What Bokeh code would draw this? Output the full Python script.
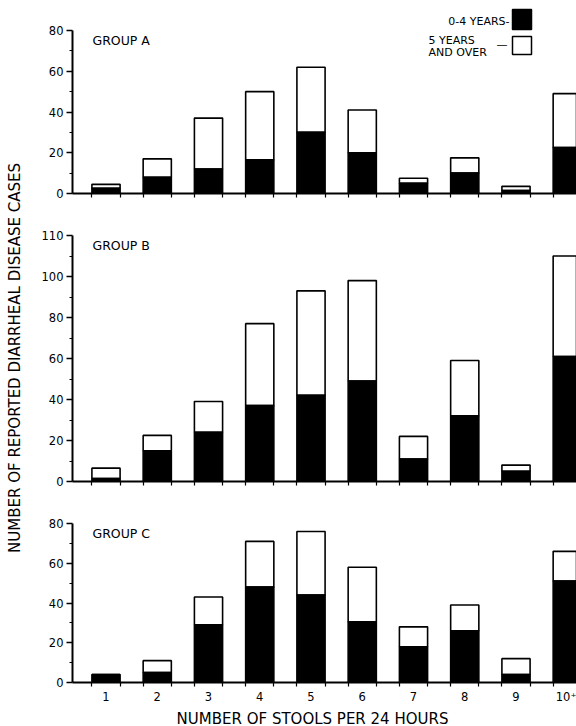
import math
from bokeh.plotting import figure
from bokeh.layouts import row, column
from bokeh.models import FixedTicker, Label, Range1d
from bokeh.embed import file_html
from bokeh.resources import INLINE

# ---------------- data ----------------
STOOLS = [1, 2, 3, 4, 5, 6, 7, 8, 9, 10]
CATEGORIES = ["1", "2", "3", "4", "5", "6", "7", "8", "9", "10\u207a"]

A_YOUNG = [2.5, 8, 12, 16.5, 30, 20, 5, 10, 1.5, 22.5]
A_OLD = [2, 9, 25, 33.5, 32, 21, 2.5, 7.5, 2, 26.5]
B_YOUNG = [1.5, 15, 24, 37, 42, 49, 11, 32, 5, 61]
B_OLD = [5, 7.5, 15, 40, 51, 49, 11, 27, 3, 49]
C_YOUNG = [4, 5, 29, 48, 44, 30.5, 18, 26, 4, 51]
C_OLD = [0, 6, 14, 23, 32, 27.5, 10, 13, 8, 15]

A_TICKS = [0, 20, 40, 60, 80]
A_TICK_LABELS = ["0", "20", "40", "60", "80"]
B_TICKS = [0, 20, 40, 60, 80, 100, 120]
B_TICK_LABELS = ["0", "20", "40", "60", "80", "100", "110"]
C_TICKS = [0, 20, 40, 60, 80]
C_TICK_LABELS = ["0", "20", "40", "60", "80"]

GROUP_NAMES = ["GROUP A", "GROUP B", "GROUP C"]
LEGEND_YOUNG = "0-4 YEARS-"
LEGEND_OLD_1 = "5 YEARS"
LEGEND_OLD_2 = "AND OVER"
X_TITLE = "NUMBER OF STOOLS PER 24 HOURS"
Y_TITLE = "NUMBER OF REPORTED DIARRHEAL DISEASE CASES"

# ---------------- layout (page pixels) ----------------
FONT = "DejaVu Sans"
TOTAL_W, TOTAL_H = 576, 726
TITLE_W = 30
PANEL_W = TOTAL_W - TITLE_W
FRAME_L, FRAME_R = 72, 576
STEP_PX = 51.25
CENTER1_PX = 105.5
BAR_W = 0.55
X_START = 1 - (CENTER1_PX - FRAME_L) / STEP_PX
X_END = X_START + (FRAME_R - FRAME_L) / STEP_PX
XT_TOP = 706


def px2x(px):
    return X_START + (px - FRAME_L) / STEP_PX


PANELS = [
    dict(name=GROUP_NAMES[0], young=A_YOUNG, old=A_OLD, ticks=A_TICKS, labels=A_TICK_LABELS,
         canvas_top=0, frame_top=0, frame_bottom=193, canvas_bottom=212, ppu=163 / 80.0,
         bounds=(0, 80), xlabels=False, label_y=40),
    dict(name=GROUP_NAMES[1], young=B_YOUNG, old=B_OLD, ticks=B_TICKS, labels=B_TICK_LABELS,
         canvas_top=212, frame_top=235, frame_bottom=481, canvas_bottom=501, ppu=246 / 120.0,
         bounds="auto", xlabels=False, label_y=245),
    dict(name=GROUP_NAMES[2], young=C_YOUNG, old=C_OLD, ticks=C_TICKS, labels=C_TICK_LABELS,
         canvas_top=501, frame_top=523, frame_bottom=687, canvas_bottom=XT_TOP, ppu=164 / 80.0,
         bounds="auto", xlabels=True, label_y=533),
]


def py2y(pan, py):
    return (pan["frame_bottom"] - py) / pan["ppu"]


edges = []
for s in STOOLS:
    edges += [s - BAR_W / 2, s + BAR_W / 2]

figs = []
for pan in PANELS:
    h = pan["canvas_bottom"] - pan["canvas_top"]
    y_end = (pan["frame_bottom"] - pan["frame_top"]) / pan["ppu"]
    p = figure(width=PANEL_W, height=h, output_backend="svg", toolbar_location=None,
               x_range=Range1d(X_START, X_END), y_range=Range1d(0, y_end),
               min_border_left=FRAME_L - TITLE_W, min_border_right=0,
               min_border_top=pan["frame_top"] - pan["canvas_top"],
               min_border_bottom=pan["canvas_bottom"] - pan["frame_bottom"])
    p.outline_line_color = None
    p.grid.visible = False
    p.background_fill_color = "white"
    p.border_fill_color = "white"

    total = [y + o for y, o in zip(pan["young"], pan["old"])]
    p.vbar(x=STOOLS, bottom=pan["young"], top=total, width=BAR_W,
           fill_color="white", line_color="black", line_width=1.6)
    p.vbar(x=STOOLS, bottom=0, top=pan["young"], width=BAR_W,
           fill_color="black", line_color="black", line_width=1.6)

    # x axis
    xa = p.xaxis[0]
    if pan["xlabels"]:
        xa.ticker = FixedTicker(ticks=STOOLS, minor_ticks=edges)
        xa.major_label_overrides = {s: c for s, c in zip(STOOLS, CATEGORIES)}
    else:
        xa.ticker = FixedTicker(ticks=[], minor_ticks=edges)
    xa.major_tick_out = 0
    xa.major_tick_in = 0
    xa.minor_tick_out = 4
    xa.minor_tick_in = 0
    xa.axis_line_width = 2
    xa.minor_tick_line_width = 1.2
    xa.major_label_standoff = 3
    xa.major_label_text_font = FONT
    xa.major_label_text_font_size = "11.5px"
    xa.major_label_text_color = "black"

    # y axis
    ya = p.yaxis[0]
    minors = [t + 10 for t in pan["ticks"][:-1]]
    ya.ticker = FixedTicker(ticks=pan["ticks"], minor_ticks=minors)
    ya.major_label_overrides = {t: l for t, l in zip(pan["ticks"], pan["labels"])}
    ya.bounds = pan["bounds"]
    ya.major_tick_out = 6
    ya.major_tick_in = 0
    ya.minor_tick_out = 3
    ya.minor_tick_in = 0
    ya.axis_line_width = 2
    ya.major_tick_line_width = 1.3
    ya.minor_tick_line_width = 1.2
    ya.major_label_standoff = 3
    ya.major_label_text_font = FONT
    ya.major_label_text_font_size = "11.5px"
    ya.major_label_text_color = "black"

    p.add_layout(Label(x=px2x(92), y=py2y(pan, pan["label_y"]),
                       text=pan["name"], text_font=FONT, text_font_size="12.5px",
                       text_baseline="middle", text_align="left", text_color="black"))
    pan["fig"] = p
    figs.append(p)

# legend in panel A
pA = PANELS[0]
fa = pA["fig"]
fa.quad(left=[px2x(512)], right=[px2x(531)], top=[py2y(pA, 9)], bottom=[py2y(pA, 29)],
        fill_color="black", line_color="black", line_width=1.5)
fa.quad(left=[px2x(512)], right=[px2x(531)], top=[py2y(pA, 36)], bottom=[py2y(pA, 54)],
        fill_color="white", line_color="black", line_width=1.5)
leg_kw = dict(text_font=FONT, text_font_size="11px", text_baseline="middle", text_color="black")
fa.add_layout(Label(x=px2x(509), y=py2y(pA, 21), text=LEGEND_YOUNG, text_align="right", **leg_kw))
fa.add_layout(Label(x=px2x(428), y=py2y(pA, 40), text=LEGEND_OLD_1, text_align="left", **leg_kw))
fa.add_layout(Label(x=px2x(428), y=py2y(pA, 51.5), text=LEGEND_OLD_2, text_align="left", **leg_kw))
fa.add_layout(Label(x=px2x(496), y=py2y(pA, 44), text="\u2014", text_align="left", **leg_kw))

# x title figure (below panel C)
XT_H = TOTAL_H - XT_TOP
xt = figure(width=PANEL_W, height=XT_H, output_backend="svg", toolbar_location=None,
            x_range=Range1d(X_START, X_END), y_range=Range1d(0, XT_H),
            x_axis_location=None, y_axis_location=None,
            min_border_left=FRAME_L - TITLE_W, min_border_right=0,
            min_border_top=0, min_border_bottom=0)
xt.outline_line_color = None
xt.grid.visible = False
xt.add_layout(Label(x=px2x(312), y=TOTAL_H - 718, text=X_TITLE, text_font=FONT,
                    text_font_size="15px", text_align="center", text_baseline="middle",
                    text_color="black"))

# y title figure
tf = figure(width=TITLE_W, height=TOTAL_H, output_backend="svg", toolbar_location=None,
            x_range=Range1d(0, TITLE_W), y_range=Range1d(0, TOTAL_H),
            x_axis_location=None, y_axis_location=None, min_border=0)
tf.outline_line_color = None
tf.grid.visible = False
tf.add_layout(Label(x=14, y=TOTAL_H - 357.5, text=Y_TITLE, angle=math.pi / 2,
                    text_font=FONT, text_font_size="15px", text_align="center",
                    text_baseline="middle", text_color="black"))

layout = row(tf, column(*figs, xt, spacing=0), spacing=0)

with open("out.html", "w") as f:
    f.write(file_html(layout, INLINE))
